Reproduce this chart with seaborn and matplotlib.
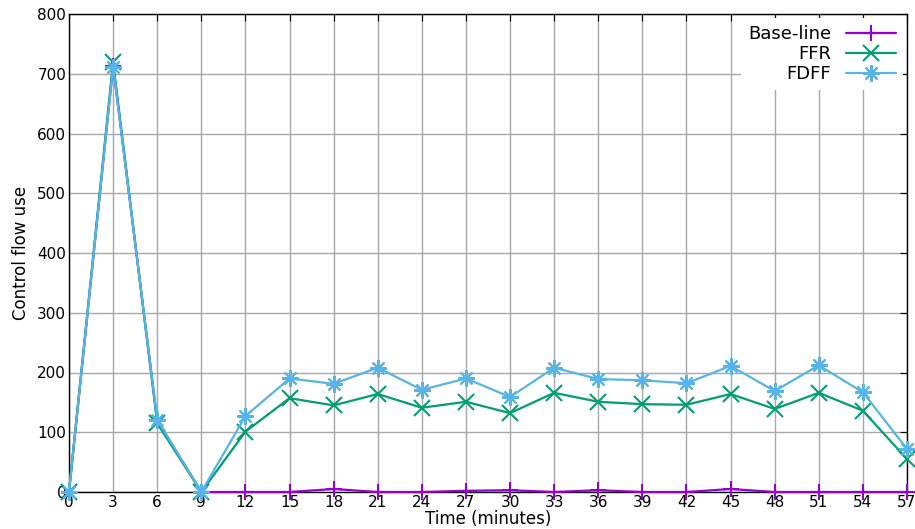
import matplotlib
matplotlib.use("Agg")
import matplotlib.pyplot as plt
import pandas as pd
import seaborn as sns

minutes = [0, 3, 6, 9, 12, 15, 18, 21, 24, 27, 30, 33, 36, 39, 42, 45, 48, 51, 54, 57]
baseline = [0, 713, 120, 0, 0, 0, 5, 0, 0, 2, 3, 0, 3, 0, 0, 5, 0, 0, 0, 0]
ffr = [0, 720, 115, 0, 101, 157, 145, 164, 141, 151, 132, 166, 151, 147, 146, 164, 139, 166, 136, 55]
fdff = [0, 712, 121, 0, 127, 190, 181, 208, 171, 190, 159, 208, 189, 187, 182, 211, 169, 212, 167, 72]

series = ["Base-line", "FFR", "FDFF"]
colors = {"Base-line": "#9400d3", "FFR": "#009e73", "FDFF": "#56b4e9"}
markers = {"Base-line": "+", "FFR": "x", "FDFF": (8, 2, 0)}

df = pd.concat([
    pd.DataFrame({"Time": minutes, "Use": vals, "Series": name})
    for name, vals in zip(series, [baseline, ffr, fdff])
])

sns.set_style("white")
plt.rcParams["font.family"] = ["DejaVu Sans"]
plt.rcParams["text.color"] = "black"
plt.rcParams["axes.labelcolor"] = "black"
plt.rcParams["xtick.color"] = "black"
plt.rcParams["ytick.color"] = "black"

fig = plt.figure(figsize=(9.15, 5.29), dpi=100)
ax = fig.add_axes([69 / 915, 37 / 529, 838 / 915, 478 / 529])

for name in series:
    sns.lineplot(
        data=df[df["Series"] == name], x="Time", y="Use", ax=ax,
        color=colors[name], marker=markers[name], markersize=12,
        markeredgewidth=1.5, markeredgecolor=colors[name],
        linewidth=1.6, label=name, clip_on=False, zorder=3,
    )

ax.set_xlim(0, 57)
ax.set_ylim(0, 800)
ax.set_xticks(minutes)
ax.set_yticks(range(0, 801, 100))
ax.grid(True, color="#a8a8a8", linewidth=1)
ax.set_axisbelow(True)
ax.tick_params(direction="in", length=5, top=True, right=True, labelsize=11,
               pad=2, color="black")
for s in ax.spines.values():
    s.set_color("black")
    s.set_linewidth(1)
ax.set_xlabel("Time (minutes)", fontsize=12, labelpad=0)
ax.set_ylabel("Control flow use", fontsize=12, labelpad=5)

leg = ax.legend(loc="upper right", markerfirst=False, fontsize=13,
                frameon=True, facecolor="white", edgecolor="none",
                framealpha=1, borderaxespad=0.2, handlelength=2.8,
                labelspacing=0.12, alignment="right")
for t in leg.get_texts():
    t.set_ha("right")

fig.savefig("out.png", dpi=100)
